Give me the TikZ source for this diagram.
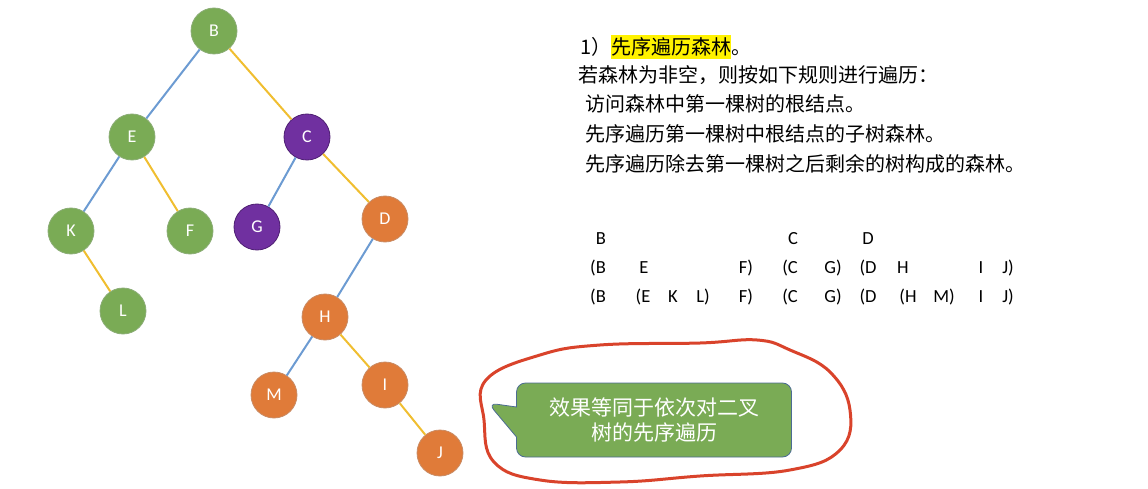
\documentclass[tikz,border=0pt]{standalone}
\usepackage{fontspec}
\setsansfont{Carlito}
\newfontfamily\cjk{Noto Sans CJK SC}
\usetikzlibrary{shapes.callouts}
\definecolor{gn}{HTML}{7AAB55}
\definecolor{gnb}{HTML}{5A8A3C}
\definecolor{pp}{HTML}{7030A0}
\definecolor{ppb}{HTML}{4E1F73}
\definecolor{og}{HTML}{E07B39}
\definecolor{ogb}{HTML}{B25A22}
\definecolor{lb}{HTML}{6C9BD2}
\definecolor{ly}{HTML}{F0BE30}
\definecolor{rl}{HTML}{D9432B}
\tikzset{
 vtx/.style={circle,minimum size=46pt,inner sep=0pt,font=\sffamily\fontsize{18}{18}\selectfont,text=white,line width=0.8pt},
 gv/.style={vtx,fill=gn,draw=gnb!70},
 pv/.style={vtx,fill=pp,draw=ppb},
 ov/.style={vtx,fill=og,draw=ogb!70},
 le/.style={lb,line width=2pt},
 re/.style={ly,line width=2pt},
 tx/.style={anchor=west,inner sep=0pt,font=\cjk\fontsize{20}{20}\selectfont},
 sq/.style={inner sep=0pt,font=\sffamily\fontsize{18.5}{18.5}\selectfont},
}
\begin{document}
\begin{tikzpicture}[x=1pt,y=-1pt]
\useasboundingbox (0,0) rectangle (1148,489);
\node[gv] (B) at (214,31) {B};
\node[gv] (E) at (132,137) {E};
\node[pv] (C) at (307,137) {C};
\node[gv] (K) at (71,231) {K};
\node[gv] (F) at (190,231) {F};
\node[pv] (G) at (257,227) {G};
\node[ov] (D) at (385,219) {D};
\node[gv] (L) at (123,311) {L};
\node[ov] (H) at (325,317) {H};
\node[ov] (M) at (274,395) {M};
\node[ov] (I) at (385,385) {I};
\node[ov] (J) at (440,453) {J};
\draw[le] (B) -- (E); \draw[re] (B) -- (C);
\draw[le] (E) -- (K); \draw[re] (E) -- (F);
\draw[re] (K) -- (L);
\draw[le] (C) -- (G); \draw[re] (C) -- (D);
\draw[le] (D) -- (H);
\draw[le] (H) -- (M); \draw[re] (H) -- (I);
\draw[re] (I) -- (J);
% text
\node[tx] (t1) at (580,47) {1）\colorbox{yellow}{\hspace{-3pt}先序遍历森林\hspace{-3pt}}。};
\node[tx] (t2) at (578,75) {若森林为非空，则按如下规则进行遍历：};
\node[tx] (t3) at (585,104) {访问森林中第一棵树的根结点。};
\node[tx] (t4) at (585,134) {先序遍历第一棵树中根结点的子树森林。};
\node[tx] (t5) at (585,164) {先序遍历除去第一棵树之后剩余的树构成的森林。};
% sequences
\foreach \x/\s [count=\i] in {601/B,793/C,868/D} \node[sq] (ra\i) at (\x,239) {\s};
\foreach \x/\s [count=\i] in {598/{(B},644/E,746/{F)},790/{(C},833/{G)},868/{(D},903/H,981/I,1008/{J)}} \node[sq] (rb\i) at (\x,268) {\s};
\foreach \x/\s [count=\i] in {598/{(B},643/{(E},673/K,703/{L)},746/{F)},790/{(C},833/{G)},868/{(D},908/{(H},944/{M)},981/I,1008/{J)}} \node[sq] (rc\i) at (\x,297) {\s};
% callout
\coordinate (tip) at (488,403);
\node[rectangle callout,rounded corners=9pt,fill=gn,draw=lb!70!black,line width=0.8pt,minimum width=275pt,minimum height=74pt,callout absolute pointer=(tip),callout pointer width=30pt,align=center,text=white,font=\cjk\fontsize{21}{25}\selectfont] (co) at (654,420) {效果等同于依次对二叉\\树的先序遍历};
% red loop
\draw[rl,line width=3pt,line cap=round] plot[smooth cycle,tension=0.7] coordinates {(486,380) (540,355) (600,345) (700,343) (757,340) (790,350) (830,372) (850,410) (840,450) (790,470) (700,476) (620,482) (540,480) (494,462) (484,420)};
\end{tikzpicture}
\end{document}
